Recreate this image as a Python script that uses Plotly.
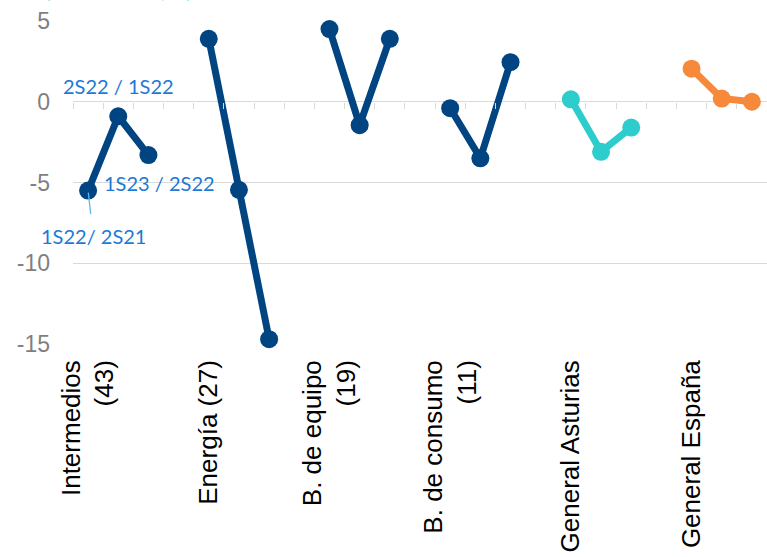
import plotly.graph_objects as go

# ---- data ----
groups = ["Intermedios<br>(43)", "Energía (27)", "B. de equipo<br>(19)",
          "B. de consumo<br>(11)", "General Asturias", "General España"]
periods = ["1S22/ 2S21", "2S22 / 1S22", "1S23 / 2S22"]
intermedios = [-5.5, -0.9, -3.3]
energia = [3.9, -5.45, -14.7]
equipo = [4.5, -1.45, 3.9]
consumo = [-0.4, -3.5, 2.45]
asturias = [0.15, -3.1, -1.6]
espana = [2.05, 0.2, 0.0]
y_ticks = [5, 0, -5, -10, -15]
y_tick_labels = ["5", "0", "-5", "-10", "-15"]

series = [intermedios, energia, equipo, consumo, asturias, espana]
NAVY = "#004481"
TEAL = "#2DCCCD"
ORANGE = "#F7893B"
colors = [NAVY, NAVY, NAVY, NAVY, TEAL, ORANGE]

GAP = 1
step = len(periods) + GAP
n_slots = len(groups) * step - GAP

fig = go.Figure()
for gi, (vals, col) in enumerate(zip(series, colors)):
    xs = [gi * step + i for i in range(len(vals))]
    fig.add_trace(go.Scatter(
        x=xs, y=vals, mode="lines+markers",
        line=dict(color=col, width=7),
        marker=dict(color=col, size=18),
        showlegend=False, hoverinfo="skip", cliponaxis=False,
    ))

label_font = dict(family="Lato, Liberation Sans, sans-serif", size=20, color="#1A7AD6")

fig.add_annotation(x=1, y=0.95, text=periods[1], showarrow=False,
                   xanchor="center", yanchor="middle", font=label_font)
fig.add_annotation(x=2.35, y=-5.05, text=periods[2], showarrow=False,
                   xanchor="center", yanchor="middle", font=label_font)
fig.add_annotation(x=0, y=intermedios[0], text=periods[0], showarrow=True,
                   ax=5, ay=45, arrowhead=0, arrowwidth=1.3, arrowcolor="#5BB8F5",
                   standoff=2, startstandoff=8, font=label_font)
# partially visible teal note cut at the top of the picture
fig.add_annotation(xref="paper", yref="paper", x=0.065, y=1.052, xanchor="center",
                   yanchor="bottom", text="(1S23 / 2S22, %)", showarrow=False,
                   font=dict(family="Lato, sans-serif", size=20, color=TEAL))

ymin, ymax = -15, 5
fig.update_layout(
    width=767, height=557,
    margin=dict(l=73, r=0, t=21, b=213),
    paper_bgcolor="white", plot_bgcolor="white",
    xaxis=dict(
        range=[-0.5, n_slots - 0.5],
        tickmode="array",
        tickvals=[gi * step for gi in range(len(groups))],
        ticktext=groups,
        tickangle=-90,
        showgrid=False, zeroline=False, showline=False, ticks="",
        ticklabelstandoff=10,
        tickfont=dict(family="Liberation Sans, Arial, sans-serif", size=26, color="#000000"),
    ),
    xaxis2=dict(
        range=[-0.5, n_slots - 0.5],
        overlaying="x", anchor="free", position=(0 - ymin) / (ymax - ymin),
        tickmode="array",
        tickvals=[i - 0.5 for i in range(n_slots + 1)],
        ticks="outside", ticklen=6, tickwidth=1.3, tickcolor="#D9D9D9",
        showticklabels=False, showgrid=False, zeroline=False, showline=False,
    ),
    yaxis=dict(
        range=[ymin, ymax], tickmode="array", tickvals=y_ticks, ticktext=y_tick_labels,
        showgrid=True, gridcolor="#D9D9D9", gridwidth=1.3,
        zeroline=True, zerolinecolor="#D9D9D9", zerolinewidth=1.3,
        ticks="", ticklabelstandoff=22,
        tickfont=dict(family="Liberation Sans, Arial, sans-serif", size=23, color="#7F7F7F"),
    ),
)
# empty trace to make sure the overlay axis is drawn
fig.add_trace(go.Scatter(x=[None], y=[None], xaxis="x2", showlegend=False, hoverinfo="skip"))

fig.write_html("out.html")
